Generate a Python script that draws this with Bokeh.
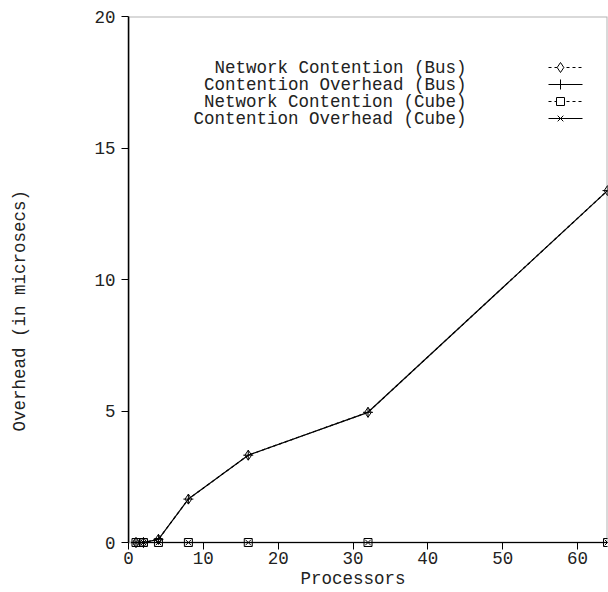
from bokeh.plotting import figure
from bokeh.models import Range1d, Label, FixedTicker, Title, BoxAnnotation
from bokeh.embed import file_html
from bokeh.resources import INLINE

# ---- data ----
processors = [1, 2, 4, 8, 16, 32, 64]
net_contention_bus = [0.0, 0.0, 0.12, 1.65, 3.32, 4.95, 13.38]
cont_overhead_bus = [0.0, 0.0, 0.12, 1.65, 3.32, 4.95, 13.38]
net_contention_cube = [0.0, 0.0, 0.0, 0.0, 0.0, 0.0, 0.0]
cont_overhead_cube = [0.0, 0.0, 0.0, 0.0, 0.0, 0.0, 0.0]
series_names = ["Network Contention (Bus)", "Contention Overhead (Bus)",
                "Network Contention (Cube)", "Contention Overhead (Cube)"]
x_ticks = [0, 10, 20, 30, 40, 50, 60]
y_ticks = [0, 5, 10, 15, 20]
x_label = "Processors"
y_label = "Overhead (in microsecs)"

# ---- layout ----
W, H = 608, 592
FL, FR, FT, FB = 128, 607, 16, 542   # pixel box of the data area (x 0..64, y 0..20)
PAD_B = 6                              # extra px below y=0 so markers on the axis are not clipped
X0, X1, Y0, Y1 = 0, 64, 0, 20
FONT = "Liberation Mono"
FS = "17.5px"
TXT = "#222222"

def dx(px):
    return X0 + (px - FL) / (FR - FL) * (X1 - X0)

def dy(py):
    return Y0 + (FB - py) / (FB - FT) * (Y1 - Y0)

p = figure(width=W, height=H, output_backend="svg", toolbar_location=None,
           x_range=Range1d(X0, X1), y_range=Range1d(dy(FB + PAD_B), Y1),
           min_border_left=FL, min_border_right=W - FR,
           min_border_top=FT, min_border_bottom=H - FB - PAD_B)
p.grid.visible = False
p.outline_line_color = None
p.background_fill_color = "white"
p.border_fill_color = "white"

for ax in (p.xaxis[0], p.yaxis[0]):
    ax.axis_line_color = "black"
    ax.axis_line_width = 1.5
    ax.major_tick_line_color = "black"
    ax.major_tick_line_width = 1
    ax.major_tick_out = 7
    ax.major_tick_in = 0
    ax.minor_tick_line_color = None
    ax.major_label_text_font = FONT
    ax.major_label_text_font_size = FS
    ax.major_label_text_color = TXT
p.xaxis[0].ticker = FixedTicker(ticks=x_ticks)
p.yaxis[0].ticker = FixedTicker(ticks=y_ticks)
p.yaxis[0].bounds = (Y0, Y1)
p.yaxis[0].major_label_standoff = 6
# x axis sits PAD_B px below y=0: the box edge gives the axis line, ticks reach up to y=0
p.xaxis[0].axis_line_color = None
p.xaxis[0].major_tick_in = PAD_B
p.xaxis[0].major_tick_out = 1
p.xaxis[0].major_label_standoff = 2

p.add_layout(BoxAnnotation(left=X0, right=X1, bottom=Y0, top=Y1, fill_color=None,
                           line_color="black", line_width=2))

# ---- series ----
styles = [
    dict(ys=net_contention_bus, dash="3 3", marker="diamond", size=10),
    dict(ys=cont_overhead_bus, dash="solid", marker="cross", size=10),
    dict(ys=net_contention_cube, dash="3 3", marker="square", size=8),
    dict(ys=cont_overhead_cube, dash="solid", marker="x", size=8),
]
for st in styles:
    p.line(processors, st["ys"], line_color="black", line_width=1.2, line_dash=st["dash"])
    p.scatter(processors, st["ys"], marker=st["marker"], size=st["size"],
              line_color="black", fill_color=None, line_width=1)

# ---- legend (text right aligned, sample on the right) ----
rows_py = [67, 84, 101, 118]
for name, st, py in zip(series_names, styles, rows_py):
    p.add_layout(Label(x=dx(466), y=dy(py), text=name, text_align="right",
                       text_baseline="middle", text_font=FONT, text_font_size=FS,
                       text_color=TXT))
    p.line([dx(548), dx(582)], [dy(py), dy(py)], line_color="black",
           line_width=1.2, line_dash=st["dash"])
    p.scatter([dx(560)], [dy(py)], marker=st["marker"], size=st["size"],
              line_color="black",
              fill_color="white" if st["marker"] in ("diamond", "square") else None,
              line_width=1)

# ---- axis titles ----
p.add_layout(Title(text=x_label, align="left", offset=300 - FL, text_font=FONT,
                   text_font_size=FS, text_font_style="normal", text_color=TXT,
                   standoff=0), "below")
# spacer that pushes the y title out to the left edge
p.add_layout(Title(text=" ", text_font=FONT, text_font_size=FS, standoff=39), "left")
p.add_layout(Title(text=y_label, align="left", offset=FB + PAD_B - 431, text_font=FONT,
                   text_font_size=FS, text_font_style="normal", text_color=TXT,
                   vertical_align="middle", standoff=0), "left")

open("out.html", "w").write(file_html(p, INLINE))
